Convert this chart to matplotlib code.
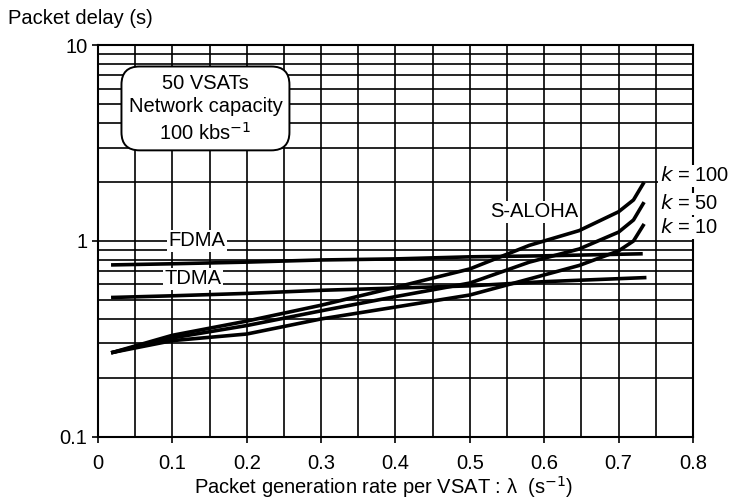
import numpy as np
import matplotlib
matplotlib.use("Agg")
import matplotlib.pyplot as plt
from matplotlib.ticker import MultipleLocator, LogLocator, NullFormatter, FixedLocator

plt.rcParams['font.family'] = ['Liberation Sans', 'DejaVu Sans']

# datos
x_fdma = [0.02, 0.1, 0.2, 0.3, 0.4, 0.5, 0.6, 0.73]
y_fdma = [0.755, 0.765, 0.78, 0.80, 0.81, 0.83, 0.84, 0.86]

x_tdma = [0.02, 0.1, 0.2, 0.3, 0.4, 0.5, 0.6, 0.735]
y_tdma = [0.515, 0.525, 0.54, 0.56, 0.575, 0.59, 0.62, 0.65]

x_aloha = [0.02, 0.1, 0.2, 0.3, 0.4, 0.5, 0.58, 0.647, 0.70, 0.72, 0.733]
y_k100 = [0.27, 0.33, 0.39, 0.47, 0.58, 0.72, 0.95, 1.13, 1.41, 1.62, 1.96]
y_k50 = [0.27, 0.32, 0.37, 0.44, 0.52, 0.61, 0.78, 0.91, 1.11, 1.28, 1.55]
y_k10 = [0.27, 0.31, 0.335, 0.40, 0.46, 0.53, 0.64, 0.75, 0.89, 1.00, 1.20]

x_ticks = [0, 0.1, 0.2, 0.3, 0.4, 0.5, 0.6, 0.7, 0.8]
x_tick_labels = ["0", "0.1", "0.2", "0.3", "0.4", "0.5", "0.6", "0.7", "0.8"]
y_ticks = [0.1, 1, 10]
y_tick_labels = ["0.1", "1", "10"]

k_labels = ["100", "50", "10"]
k_pos = [2.15, 1.55, 1.17]


def dibujar():
    fig = plt.figure(figsize=(7.29, 5.01), dpi=100)
    ax = fig.add_axes([0.1344, 0.128, 0.8162, 0.782])

    ax.set_yscale("log")
    ax.set_xlim(0, 0.8)
    ax.set_ylim(0.1, 10)

    ax.xaxis.set_major_locator(FixedLocator(x_ticks))
    ax.xaxis.set_minor_locator(MultipleLocator(0.05))
    ax.yaxis.set_major_locator(FixedLocator(y_ticks))
    ax.yaxis.set_minor_locator(LogLocator(base=10, subs=np.arange(2, 10)))
    ax.yaxis.set_minor_formatter(NullFormatter())
    ax.set_yticklabels(y_tick_labels)
    ax.set_xticklabels(x_tick_labels)

    ax.grid(True, which="both", color="black", linewidth=1.2)
    ax.tick_params(which="major", length=4, width=1.2, labelsize=14.5, direction="out")
    ax.tick_params(axis="x", which="major", pad=8)
    ax.tick_params(which="minor", length=0)
    for s in ax.spines.values():
        s.set_linewidth(1.5)

    # curvas
    ax.plot(x_fdma, y_fdma, color="black", lw=2.6, zorder=3)
    ax.plot(x_tdma, y_tdma, color="black", lw=2.6, zorder=3)
    for y in (y_k100, y_k50, y_k10):
        ax.plot(x_aloha, y, color="black", lw=2.6, zorder=3)

    fondo = dict(facecolor="white", edgecolor="none", pad=1)
    ax.text(0.133, 1.0, "FDMA", fontsize=14.5, ha="center", va="center", bbox=fondo, zorder=4)
    ax.text(0.128, 0.64, "TDMA", fontsize=14.5, ha="center", va="center", bbox=fondo, zorder=4)
    ax.text(0.587, 1.41, "S-ALOHA", fontsize=14.5, ha="center", va="center", bbox=fondo, zorder=4)
    for lab, yy in zip(k_labels, k_pos):
        ax.text(0.755, yy, "$k$ = " + lab, fontsize=14.5, ha="left", va="center",
                bbox=fondo, zorder=4, clip_on=False)

    ax.text(0.1445, 4.75, "50 VSATs\nNetwork capacity\n100 kbs$^{-1}$", fontsize=14.5,
            ha="center", va="center", linespacing=1.3, zorder=5,
            bbox=dict(boxstyle="round,pad=0.35,rounding_size=0.9", facecolor="white",
                      edgecolor="black", linewidth=1.4))

    fig.text(8 / 729, 1 - 18 / 501, "Packet delay (s)", fontsize=14.5, ha="left", va="center")
    fig.text(383 / 729, 1 - 487 / 501, "Packet generation rate per VSAT : \u03bb  (s$^{-1}$)",
             fontsize=14.5, ha="center", va="center")

    fig.savefig("out.png", dpi=100)


if __name__ == "__main__":
    dibujar()
